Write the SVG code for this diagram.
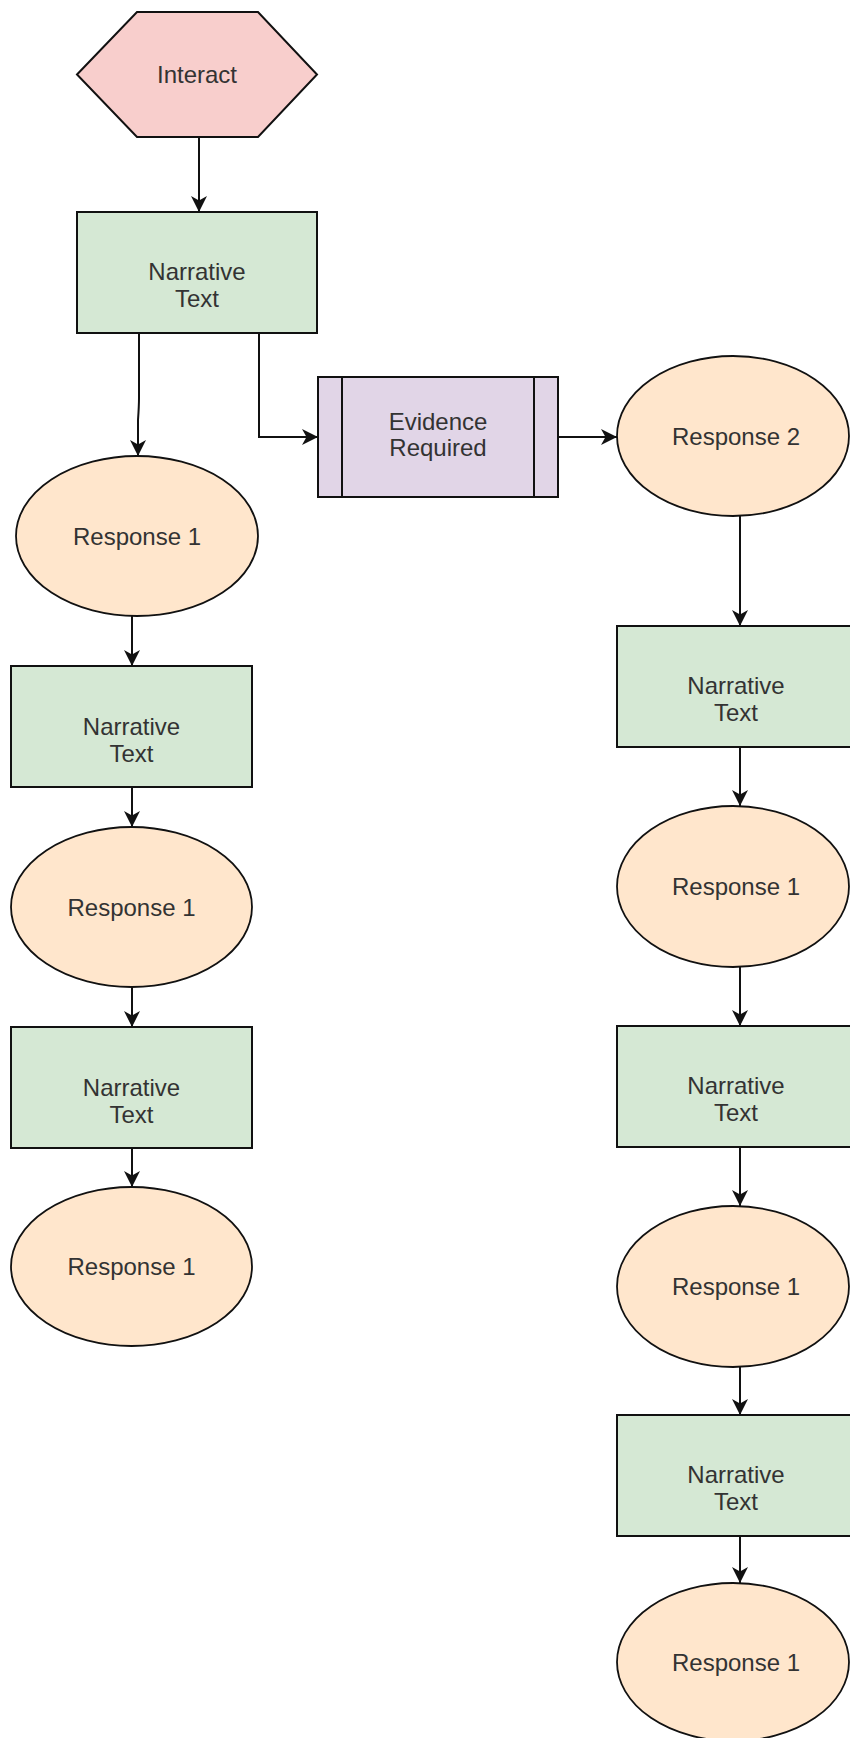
<svg xmlns="http://www.w3.org/2000/svg" width="850" height="1738" viewBox="0 0 850 1738">
  <defs>
    <style>
      .shape { stroke: #111; stroke-width: 2; }
      .hex { fill: #f8cecc; }
      .narr { fill: #d5e8d4; }
      .resp { fill: #ffe6cc; stroke-width: 1.8; }
      .proc { fill: #e1d5e7; }
      .lbl { font-family: "Liberation Sans", Arial, sans-serif; font-size: 24px; fill: #333; text-anchor: middle; }
      .edge { fill: none; stroke: #111; stroke-width: 2; marker-end: url(#arrow); }
    </style>
    <marker id="arrow" markerUnits="userSpaceOnUse" markerWidth="18" markerHeight="18" viewBox="0 0 18 18" refX="17" refY="9" orient="auto">
      <path d="M1,1 L17,9 L1,17 L5.5,9 Z" fill="#111"/>
    </marker>
  </defs>

  <!-- connectors -->
  <g id="connectors">
    <path class="edge" d="M199,137 L199,212"/>
    <path class="edge" d="M139,333 L139,398 Q139,406 138,420 L138,456"/>
    <path class="edge" d="M259,333 L259,437 L318,437"/>
    <path class="edge" d="M558,437 L617,437"/>
    <!-- left column -->
    <path class="edge" d="M132,616 L132,666"/>
    <path class="edge" d="M132,787 L132,827"/>
    <path class="edge" d="M132,987 L132,1027"/>
    <path class="edge" d="M132,1148 L132,1187"/>
    <!-- right column -->
    <path class="edge" d="M740,516 L740,626"/>
    <path class="edge" d="M740,747 L740,806"/>
    <path class="edge" d="M740,967 L740,1026"/>
    <path class="edge" d="M740,1147 L740,1206"/>
    <path class="edge" d="M740,1367 L740,1415"/>
    <path class="edge" d="M740,1536 L740,1583"/>
  </g>

  <!-- start -->
  <g id="interact">
    <polygon class="shape hex" points="77,74.5 137,12 258,12 317,74.5 258,137 137,137"/>
    <text class="lbl" x="197" y="82.5">Interact</text>
  </g>

  <g id="narrative-top">
    <rect class="shape narr" x="77" y="212" width="240" height="121"/>
    <text class="lbl" x="197" y="280">Narrative</text>
    <text class="lbl" x="197" y="307">Text</text>
  </g>

  <g id="evidence">
    <rect class="shape proc" x="318" y="377" width="240" height="120"/>
    <line class="shape" x1="342" y1="377" x2="342" y2="497"/>
    <line class="shape" x1="534" y1="377" x2="534" y2="497"/>
    <text class="lbl" x="438" y="429.5">Evidence</text>
    <text class="lbl" x="438" y="456">Required</text>
  </g>

  <!-- left branch -->
  <g id="left-response-1">
    <ellipse class="shape resp" cx="137" cy="536" rx="121" ry="80"/>
    <text class="lbl" x="137" y="544.5">Response 1</text>
  </g>
  <g id="left-narrative-1">
    <rect class="shape narr" x="11" y="666" width="241" height="121"/>
    <text class="lbl" x="131.5" y="734.5">Narrative</text>
    <text class="lbl" x="131.5" y="761.5">Text</text>
  </g>
  <g id="left-response-2">
    <ellipse class="shape resp" cx="131.5" cy="907" rx="120.5" ry="80"/>
    <text class="lbl" x="131.5" y="915.5">Response 1</text>
  </g>
  <g id="left-narrative-2">
    <rect class="shape narr" x="11" y="1027" width="241" height="121"/>
    <text class="lbl" x="131.5" y="1095.5">Narrative</text>
    <text class="lbl" x="131.5" y="1122.5">Text</text>
  </g>
  <g id="left-response-3">
    <ellipse class="shape resp" cx="131.5" cy="1266.5" rx="120.5" ry="79.5"/>
    <text class="lbl" x="131.5" y="1275">Response 1</text>
  </g>

  <!-- right branch -->
  <g id="right-response-2">
    <ellipse class="shape resp" cx="733" cy="436" rx="116" ry="80"/>
    <text class="lbl" x="736" y="444.5">Response 2</text>
  </g>
  <g id="right-narrative-1">
    <rect class="shape narr" x="617" y="626" width="240" height="121"/>
    <text class="lbl" x="736" y="694">Narrative</text>
    <text class="lbl" x="736" y="721">Text</text>
  </g>
  <g id="right-response-a">
    <ellipse class="shape resp" cx="733" cy="886.5" rx="116" ry="80.5"/>
    <text class="lbl" x="736" y="895">Response 1</text>
  </g>
  <g id="right-narrative-2">
    <rect class="shape narr" x="617" y="1026" width="240" height="121"/>
    <text class="lbl" x="736" y="1094">Narrative</text>
    <text class="lbl" x="736" y="1121">Text</text>
  </g>
  <g id="right-response-b">
    <ellipse class="shape resp" cx="733" cy="1286.5" rx="116" ry="80.5"/>
    <text class="lbl" x="736" y="1295">Response 1</text>
  </g>
  <g id="right-narrative-3">
    <rect class="shape narr" x="617" y="1415" width="240" height="121"/>
    <text class="lbl" x="736" y="1483">Narrative</text>
    <text class="lbl" x="736" y="1510">Text</text>
  </g>
  <g id="right-response-c">
    <ellipse class="shape resp" cx="733" cy="1662" rx="116" ry="79"/>
    <text class="lbl" x="736" y="1670.5">Response 1</text>
  </g>
</svg>
